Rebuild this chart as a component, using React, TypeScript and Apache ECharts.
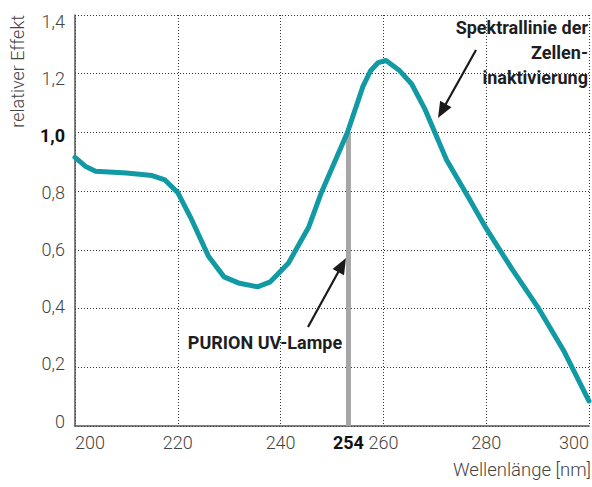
import React, { useEffect, useRef } from "react";
import * as echarts from "echarts";

// Wavelength [nm] and relative effect
const wavelengths = [200, 202, 204, 210, 215, 217.5, 220, 222.5, 226, 229, 232, 235.5, 238, 241.5, 245.5, 248, 253, 256, 257.5, 259, 260.5, 263, 265.5, 268, 272.3, 276.5, 280, 285, 290, 295, 300];
const effect = [0.915, 0.885, 0.868, 0.862, 0.853, 0.838, 0.795, 0.71, 0.577, 0.508, 0.486, 0.474, 0.491, 0.554, 0.679, 0.798, 1.0, 1.156, 1.21, 1.238, 1.245, 1.213, 1.165, 1.082, 0.906, 0.78, 0.673, 0.535, 0.406, 0.259, 0.085];

const xTickValues = [200, 220, 240, 260, 280, 300];
const yTickValues = [0, 0.2, 0.4, 0.6, 0.8, 1.0, 1.2, 1.4];
const lampLabel = "254";
const lampLinePos = 253.2;
const lampLineTop = 1.0;

const xAxisTitle = "Wellenlänge [nm]";
const yAxisTitle = "relativer Effekt";
const curveNote = "Spektrallinie der\nZellen-\ninaktivierung";
const lampNote = "PURION UV-Lampe";

const TEAL = "#129aa4";
const FONT = "Roboto, 'Noto Sans', sans-serif";

function arrow(x1: number, y1: number, x2: number, y2: number) {
  const dx = x2 - x1, dy = y2 - y1;
  const len = Math.sqrt(dx * dx + dy * dy);
  const ux = dx / len, uy = dy / len;
  const hl = 16, hw = 6.5;
  const bx = x2 - ux * hl, by = y2 - uy * hl;
  const nx = -uy, ny = ux;
  return [
    { type: "line", shape: { x1, y1, x2: bx + ux * 2, y2: by + uy * 2 }, style: { stroke: "#1a1a1a", lineWidth: 2.2 } },
    { type: "polygon", shape: { points: [[x2, y2], [bx + nx * hw, by + ny * hw], [bx - nx * hw, by - ny * hw]] }, style: { fill: "#1a1a1a" } },
  ];
}

export default function App() {
  const ref = useRef<HTMLDivElement>(null);
  useEffect(() => {
    if (!ref.current) return;
    const chart = echarts.init(ref.current, null, { renderer: "svg" });
    const curve = wavelengths.map((w, i) => [w, effect[i]]);
    const yFmt = (v: number) => {
      if (Math.abs(v) < 1e-9) return "0";
      const s = v.toFixed(1).replace(".", ",");
      return Math.abs(v - 1) < 1e-9 ? "{b|" + s + "}" : s;
    };
    chart.setOption({
      animation: false,
      backgroundColor: "#ffffff",
      textStyle: { fontFamily: FONT },
      grid: { left: 75, right: 1, top: 15, bottom: 61, containLabel: false },
      xAxis: {
        type: "value",
        min: 200,
        max: 300,
        interval: 20,
        axisLine: { show: true, lineStyle: { color: "#555", width: 1.5 } },
        axisTick: { show: false },
        splitLine: { show: true, lineStyle: { color: "#333", width: 1, type: [1, 2] } },
        axisLabel: {
          customValues: [...xTickValues.slice(0, 3), lampLinePos, ...xTickValues.slice(3)],
          formatter: (v: number) => (Math.abs(v - lampLinePos) < 1e-6 ? "{b|" + lampLabel + "}" : String(v)),
          color: "#444",
          fontSize: 18,
          fontWeight: 300,
          fontFamily: FONT,
          margin: 7,
          alignMinLabel: "left",
          alignMaxLabel: "right",
          rich: { b: { fontWeight: "bold", color: "#111", fontSize: 18, fontFamily: FONT } },
        },
      },
      yAxis: [
        {
          type: "value",
          min: 0,
          max: 1.4,
          interval: 0.2,
          axisLine: { show: true, lineStyle: { color: "#555", width: 1.5 } },
          axisTick: { show: false },
          axisLabel: { show: false },
          splitLine: { show: true, lineStyle: { color: "#333", width: 1, type: [1, 2] } },
        },
        {
          type: "value",
          position: "left",
          min: -0.0175,
          max: 1.4233,
          axisLine: { show: false },
          axisTick: { show: false },
          splitLine: { show: false },
          axisLabel: {
            customValues: yTickValues,
            formatter: yFmt,
            color: "#444",
            fontSize: 18,
            fontWeight: 300,
            fontFamily: FONT,
            margin: 10,
            rich: { b: { fontWeight: "bold", color: "#111", fontSize: 18, fontFamily: FONT } },
          },
        },
      ],
      series: [
        {
          type: "line",
          yAxisIndex: 0,
          data: [[lampLinePos, 0], [lampLinePos, lampLineTop]],
          symbol: "none",
          lineStyle: { color: "#a6a6a6", width: 5, cap: "butt" },
          z: 2,
          silent: true,
        },
        {
          type: "line",
          yAxisIndex: 0,
          data: curve,
          symbol: "none",
          lineStyle: { color: TEAL, width: 5, cap: "round", join: "round" },
          z: 3,
          silent: true,
        },
      ],
      graphic: [
        {
          type: "text",
          x: 17,
          y: 15,
          rotation: Math.PI / 2,
          style: { text: yAxisTitle, fill: "#444", font: `300 18px ${FONT}`, align: "right", verticalAlign: "middle" },
        },
        {
          type: "text",
          x: 591,
          y: 470,
          style: { text: xAxisTitle, fill: "#444", font: `300 18.5px ${FONT}`, align: "right", verticalAlign: "middle" },
        },
        {
          type: "text",
          x: 588,
          y: 15,
          style: { text: curveNote, fill: "#1e1e1e", font: `bold 18px ${FONT}`, align: "right", verticalAlign: "top", lineHeight: 25 },
          z: 10,
        },
        {
          type: "text",
          x: 265,
          y: 342,
          style: { text: lampNote, fill: "#1e1e1e", font: `bold 18px ${FONT}`, align: "center", verticalAlign: "middle" },
          z: 10,
        },
        ...arrow(476, 50, 438, 118),
        ...arrow(308, 327, 346, 258),
      ],
    });
    return () => chart.dispose();
  }, []);
  return <div ref={ref} style={{ position: "fixed", left: 0, top: 0, width: 592, height: 487 }} />;
}
